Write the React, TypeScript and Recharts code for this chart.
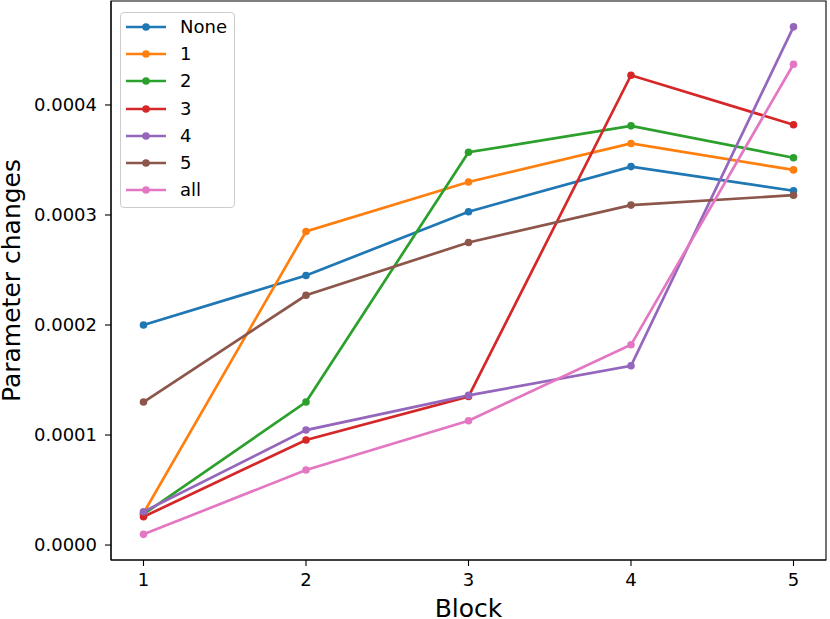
import { LineChart, Line, XAxis, YAxis, Legend, ReferenceArea } from 'recharts';

const blocks = [1, 2, 3, 4, 5];
const seriesNames = ['None', '1', '2', '3', '4', '5', 'all'];
const seriesColors = ['#1f77b4', '#ff7f0e', '#2ca02c', '#d62728', '#9467bd', '#8c564b', '#e377c2'];

const valuesNone = [0.0002, 0.000245, 0.000303, 0.000344, 0.000322];
const values1 = [0.000029, 0.000285, 0.00033, 0.000365, 0.000341];
const values2 = [0.000028, 0.00013, 0.000357, 0.000381, 0.000352];
const values3 = [0.0000257, 0.0000955, 0.000135, 0.000427, 0.000382];
const values4 = [0.0000303, 0.0001045, 0.000136, 0.000163, 0.000471];
const values5 = [0.00013, 0.000227, 0.000275, 0.000309, 0.000318];
const valuesAll = [0.0000097, 0.0000682, 0.000113, 0.000182, 0.000437];

const yTicks = [0, 0.0001, 0.0002, 0.0003, 0.0004];
const yDomain = [-0.0000136, 0.0004945];
const xDomain = [0.8, 5.2];

const allSeries = [valuesNone, values1, values2, values3, values4, values5, valuesAll];

const data = blocks.map((b, i) => {
  const row: Record<string, number> = { block: b };
  seriesNames.forEach((name, s) => {
    row[name] = allSeries[s][i];
  });
  return row;
});

const FONT = '"DejaVu Sans", sans-serif';

// keep the legend in plotting order (recharts sorts the payload by name)
function LegendBox() {
  return (
    <div
      style={{
        border: '1px solid #cccccc',
        borderRadius: 4,
        background: 'rgba(255,255,255,0.8)',
        boxSizing: 'border-box',
        width: 115,
        height: 196,
        paddingLeft: 5,
        fontFamily: FONT,
      }}
    >
      {seriesNames.map((name, i) => (
        <div key={name} style={{ display: 'flex', alignItems: 'center', height: 27.3 }}>
          <svg width={40} height={10}>
            <line x1={0} y1={5} x2={40} y2={5} stroke={seriesColors[i]} strokeWidth={2.7} />
            <circle cx={20} cy={5} r={3.8} fill={seriesColors[i]} />
          </svg>
          <span style={{ marginLeft: 14, fontSize: 18, color: '#000', lineHeight: '18px' }}>{name}</span>
        </div>
      ))}
    </div>
  );
}

function YLabel({ viewBox }: any) {
  const cx = viewBox.x + 20;
  const cy = viewBox.y + viewBox.height / 2;
  return (
    <text
      x={cx}
      y={cy}
      transform={`rotate(-90, ${cx}, ${cy})`}
      textAnchor="middle"
      fontSize={25}
      fontFamily={FONT}
      fill="#000"
    >
      Parameter changes
    </text>
  );
}

export default function App() {
  return (
    <div style={{ position: 'absolute', left: 0, top: 0, width: 830, height: 619, background: '#fff', fontFamily: FONT }}>
      <LineChart width={830} height={619} data={data} margin={{ top: 1, right: 4, left: 0, bottom: 0 }}>
        <ReferenceArea
          x1={xDomain[0]}
          x2={xDomain[1]}
          y1={yDomain[0]}
          y2={yDomain[1]}
          fill="none"
          stroke="#000"
          strokeWidth={1.1}
          ifOverflow="visible"
        />
        <XAxis
          dataKey="block"
          type="number"
          domain={xDomain}
          ticks={blocks}
          allowDataOverflow
          height={59}
          tickSize={6}
          tickMargin={7}
          axisLine={{ stroke: '#000', strokeWidth: 1.1 }}
          tickLine={{ stroke: '#000', strokeWidth: 1.1 }}
          tick={{ fill: '#000', fontSize: 18, fontFamily: FONT }}
          label={{ value: 'Block', position: 'insideBottom', offset: 2, fontSize: 25, fill: '#000', fontFamily: FONT }}
        />
        <YAxis
          type="number"
          domain={yDomain}
          ticks={yTicks}
          allowDataOverflow
          width={111}
          tickSize={6}
          tickMargin={8}
          tickFormatter={(v: number) => v.toFixed(4)}
          axisLine={{ stroke: '#000', strokeWidth: 1.1 }}
          tickLine={{ stroke: '#000', strokeWidth: 1.1 }}
          tick={{ fill: '#000', fontSize: 18, fontFamily: FONT }}
          label={{ content: YLabel }}
        />
        <Legend
          layout="vertical"
          align="center"
          verticalAlign="middle"
          width={115}
          wrapperStyle={{ left: 120, top: 12 }}
          content={LegendBox}
        />
        {seriesNames.map((name, i) => (
          <Line
            key={name}
            dataKey={name}
            name={name}
            stroke={seriesColors[i]}
            strokeWidth={2.7}
            dot={{ r: 3.8, fill: seriesColors[i], stroke: 'none' }}
            activeDot={false}
            isAnimationActive={false}
          />
        ))}
      </LineChart>
    </div>
  );
}
